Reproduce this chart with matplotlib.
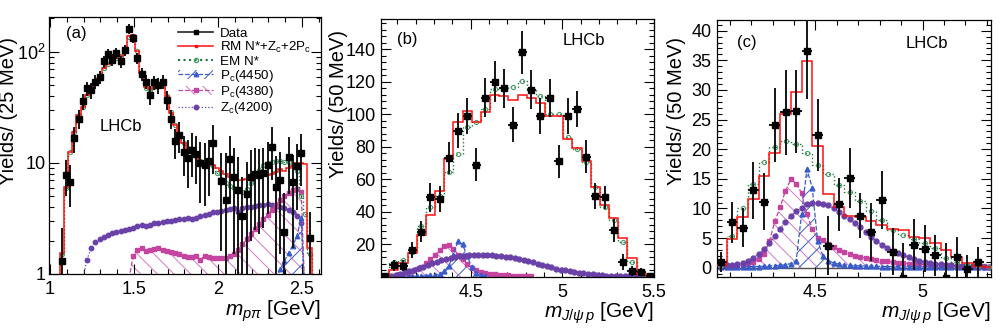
import numpy as np
import matplotlib
matplotlib.use("Agg")
import matplotlib.pyplot as plt
from matplotlib.patches import Patch
from matplotlib.lines import Line2D
from matplotlib.ticker import MultipleLocator, LogLocator, NullFormatter

plt.rcParams['font.family'] = ['Liberation Sans', 'DejaVu Sans']
plt.rcParams['mathtext.fontset'] = 'custom'
plt.rcParams['mathtext.rm'] = 'Liberation Sans'
plt.rcParams['mathtext.it'] = 'Liberation Sans:italic'
plt.rcParams['mathtext.bf'] = 'Liberation Sans:bold'
plt.rcParams['hatch.linewidth'] = 0.7

nan = np.nan

# ---------------- panel (a): m(p pi), 25 MeV bins ----------------
a_start, a_width = 1.0575, 0.025
a_data = [1.3, 7.8, 6.8, 16.7, 25, 36, 47, 45, 54, 59,
          82, 96, 85, 97, 82, 104, 161, 133, 88, 63,
          54, 41, 53, 50, 54, 37, 25, 15.6, 17.9, 12.6,
          11.0, 13.0, 12.0, 9.9, 9.6, 10.5, 15.0, nan, 6.9, 4.6,
          10.8, 7.5, 5.7, 3.3, 5.3, 7.5, 8.0, 7.8, 8.1, 9.5,
          14.0, 6.1, 7.0, 2.4, 11.2, 6.7, 9.3, 12.2, nan, 2.1]
a_err = [1.3, 2.8, 2.8, 4.5, 5.0, 6.0, 7.0, 7.0, 7.5, 8.0,
         10.0, 10.5, 10.0, 10.5, 10.0, 12.0, 16.0, 13.0, 10.0, 8.5,
         8.0, 8.0, 8.0, 8.0, 8.0, 7.0, 5.0, 4.7, 5.5, 5.0,
         5.0, 5.5, 5.5, 5.5, 5.5, 5.5, 7.0, nan, 5.3, 7.6,
         6.5, 6.0, 5.5, 4.2, 5.0, 5.5, 5.5, 5.5, 5.5, 6.0,
         7.0, 5.5, 5.5, 3.0, 6.0, 5.0, 5.5, 6.0, nan, 1.5]
a_rm = [1.55, 6.1, 12.6, 19, 27, 32, 41, 47, 53, 58,
        72, 77, 84, 88, 92, 104, 138, 142, 102, 65,
        48, 46, 49, 50, 50, 40, 28, 22, 18.5, 15,
        13.5, 12.3, 11.5, 10.5, 10, 10, 9.5, 9.0, 8.5, 8.0,
        7.5, 7.3, 7.0, 7.0, 7.2, 7.5, 7.5, 8.0, 8.0, 7.8,
        8.0, 8.3, 8.8, 8.5, 9.0, 9.3, 10.0, 10.0, 9.8, 1.7]
a_em = [1.5, 6.0, 12.5, 19, 27, 32, 41, 47, 53, 58,
        72, 77, 84, 88, 92, 102, 135, 140, 102, 65,
        47, 45, 48, 50, 50, 40, 29, 22, 18, 15,
        13.5, 12.5, 11.5, 10.5, 10.2, 9.8, 9.3, 8.2, 7.2, 6.6,
        6.2, 5.9, 5.6, 5.5, 5.8, 6.6, 7.6, 8.6, 9.5, 10.0,
        10.3, 10.5, 10.5, 10.3, 10.1, 9.8, 8.5, 5.0, 3.5, 1.5]
a_zc = [nan, nan, nan, nan, nan, 0.9, 1.35, 1.7, 1.95, 2.05,
        2.15, 2.25, 2.35, 2.4, 2.45, 2.5, 2.55, 2.6, 2.7, 2.75,
        2.7, 2.75, 2.85, 2.9, 2.95, 3.0, 3.0, 3.05, 3.1, 3.1,
        3.2, 3.15, 3.2, 3.3, 3.4, 3.5, 3.6, 3.65, 3.7, 3.8,
        3.85, 3.9, 3.6, 3.9, 4.0, 4.05, 4.1, 4.15, 4.2, 4.25,
        4.2, 4.1, 4.0, 3.9, 3.8, 3.6, 3.3, 2.9, 0.5, nan]
a_pc4380 = [nan, nan, nan, nan, nan, nan, nan, nan, nan, nan,
            nan, nan, nan, nan, nan, nan, 0.9, 1.45, 1.65, 1.7,
            1.62, 1.65, 1.68, 1.72, 1.65, 1.6, 1.58, 1.55, 1.5, 1.45,
            1.42, 1.42, 1.45, 1.35, 1.45, 1.42, 1.4, 1.4, 1.38, 1.4,
            1.45, 1.52, 1.65, 1.85, 2.05, 2.3, 2.55, 2.8, 3.1, 3.4,
            3.8, 4.2, 4.6, 5.0, 5.4, 5.7, 5.8, 5.5, 0.5, nan]
a_pc4450 = [nan] * 51 + [0.9, 1.1, 1.3, 1.55, 1.8, 2.2, 3.2, 0.5, nan]

# ---------------- panel (b): m(J/psi p), 50 MeV bins ----------------
b_start, b_width = 4.005, 0.05
b_data = [0.8, 7.3, 6.9, 16.5, 27.8, 49, 48, 73, 90, 99,
          69, 110, 120, 116, 93.5, 138, 115, 99, 110, 71,
          99, 103, 74, 50, 49, 28.8, 9.4, 3.9, 3.3, 0.8]
b_err = [0.0, 3.4, 3.3, 5.0, 6.5, 9.0, 8.0, 10.0, 11.0, 11.0,
         10.0, 12.0, 12.7, 12.0, 10.7, 13.0, 12.0, 11.0, 11.5, 10.0,
         11.0, 11.0, 10.0, 8.0, 7.0, 7.0, 5.0, 3.0, 2.5, 0.0]
b_rm = [0, 4.3, 8.4, 14.5, 25.7, 38, 53, 72.7, 95.5, 102,
        95, 101.6, 112, 111, 109, 112, 110, 107, 99, 98.8,
        85, 79, 71, 55, 44, 36, 23.7, 11.4, 2.0, 0]
b_em = [0, 9.5, 10.4, 15.5, 31.4, 43, 50, 64.5, 75.7, 92,
        95, 103, 115.5, 116, 117, 120.6, 115.5, 111.4, 100, 100,
        86, 78.4, 70.6, 55.3, 43, 35, 21.6, 9.4, 2.9, 0]
b_zc_start = 4.065
b_zc = [0.8, 1.4, 2.0, 2.8, 3.7, 4.6, 5.5, 6.4, 7.4, 8.4,
        9.3, 10.2, 11.0, 11.7, 12.3, 12.8, 13.1, 13.3, 13.5, 13.5,
        13.5, 13.6, 13.4, 13.1, 12.8, 12.4, 12.0, 11.5, 11.0, 10.4,
        9.7, 9.0, 8.2, 7.4, 6.6, 5.9, 5.2, 4.6, 4.0, 3.5,
        3.0, 2.6, 2.2, 1.9, 1.6, 1.3, 1.1, 0.9, 0.8, 0.7,
        0.6, 0.5, 0.4, 0.3, 0.3, 0.2, 0.2]
b_pc_start = 4.08
b_pc4380 = [0.5, 1.0, 1.6, 2.4, 3.4, 4.8, 6.4, 8.4, 10.8, 13.6,
            16.4, 19.0, 19.8, 17.5, 13.8, 11.0, 8.0, 5.6, 4.0, 3.0,
            2.4, 2.0, 1.7, 1.4, 1.2, 1.0, 0.9, 0.8, 0.7, 0.6, 0.5]
b_pc4450 = [0.2, 0.2, 0.3, 0.3, 0.4, 0.5, 0.6, 0.8, 1.0, 1.3,
            1.8, 3.5, 7.0, 13.5, 22.0, 20.0, 13.0, 6.0, 2.5, 1.0, 0.4]

# ---------------- panel (c): m(J/psi p), 50 MeV bins, second selection ----------------
c_start, c_width = 4.035, 0.05
c_data = [1.0, 7.65, 6.75, 13.1, 11.1, 24.1, 26.2, 26.4, 36.5, 22.4,
          3.7, 10.7, 15.1, 8.8, 6.1, 11.5, 2.7, -1.8, 3.9, 3.2,
          2.1, -1.8, 1.75, -0.3, 1.0]
c_err = [1.7, 3.4, 3.3, 4.8, 4.8, 6.3, 7.2, 7.0, 8.0, 6.0,
         5.0, 4.5, 5.1, 3.8, 4.9, 4.9, 4.0, 6.0, 4.3, 4.0,
         3.5, 6.0, 3.5, 2.5, 2.5]
c_rm = [0.5, 4.9, 8.5, 11.6, 15.4, 19.4, 25.9, 29.6, 34.9, 20.6,
        12.4, 10.3, 8.7, 8.5, 7.8, 7.2, 6.5, 6.4, 5.2, 5.0,
        4.2, 3.0, 1.8, 0.8, 0.3, 0.2]
c_em = [0.5, 5.4, 10.1, 14.1, 17.8, 20.4, 21.4, 20.8, 19.4, 17.4,
        15.8, 14.0, 12.7, 11.3, 9.6, 8.0, 6.4, 5.5, 4.8, 4.1,
        3.3, 1.6, 1.0, 0.6, 0.3, 0.2]
c_comp_start = 4.06
c_zc = [0.3, 0.4, 0.5, 0.6, 0.8, 1.2, 1.7, 2.3, 3.1, 4.1,
        5.3, 6.6, 7.7, 8.7, 9.5, 10.1, 10.7, 11.0, 11.0, 10.8,
        10.5, 10.0, 9.4, 8.8, 8.2, 7.5, 6.8, 6.0, 5.2, 4.5,
        3.9, 3.4, 2.9, 2.5, 2.1, 1.8, 1.5, 1.2, 1.0, 0.8,
        0.7, 0.6, 0.5, 0.4, 0.35, 0.3, 0.3, 0.25, 0.2, 0.2, 0.2]
c_pc4380 = [0.1, 0.1, 0.2, 0.3, 0.4, 0.6, 0.9, 1.5, 2.3, 4.5,
            7.8, 10.2, 13.0, 14.9, 14.2, 12.6, 9.0, 6.5, 5.0, 4.6,
            4.0, 3.5, 3.0, 2.6, 2.3, 2.0, 1.8, 1.6, 1.4, 1.3,
            1.15, 1.05, 0.95, 0.85, 0.8, 0.7, 0.65, 0.6, 0.55, 0.5,
            0.45, 0.45, 0.4, 0.4, 0.35, 0.35, 0.3, 0.3, 0.25, 0.25, 0.2]
c_pc4450 = [0.1, 0.1, 0.1, 0.1, 0.15, 0.15, 0.2, 0.2, 0.25, 0.3,
            0.35, 0.4, 0.5, 0.7, 1.2, 9.0, 16.6, 13.5, 4.5, 2.0,
            1.2, 0.8, 0.6, 0.5, 0.4, 0.35, 0.3, 0.3, 0.25, 0.25,
            0.2, 0.2, 0.2, 0.2, 0.15, 0.15, 0.15, 0.15, 0.1, 0.1,
            0.1, 0.1, 0.1, 0.1, 0.1, 0.1, 0.1, 0.1, 0.1, 0.1, 0.1]

RED = '#ff1010'
GREEN = '#1f7a3a'
GREEN_M = '#4c9c6c'
BLUE = '#3a5cc8'
MAG = '#c4449f'
MAG_H = '#d27ac4'
PURP = '#6a41a8'
HATCH_M = '\\\\'
HATCH_B = '//'


def edges_of(start, width, n):
    return start + width * np.arange(n + 1)


def style_axis(ax, ypad=4):
    ax.tick_params(which='both', direction='in', top=True, right=True,
                   labelsize=13, width=0.8)
    ax.tick_params(which='major', length=7)
    ax.tick_params(which='minor', length=3.5)
    ax.tick_params(axis='x', pad=5)
    ax.tick_params(axis='y', pad=ypad)
    for s in ax.spines.values():
        s.set_linewidth(0.9)


def draw_panel(ax, data, err, rm, em, start, width, comps, base, halfx,
               log=False, ms=4.0, cms=3.5):
    n = len(data)
    ed = edges_of(start, width, len(rm))
    cen = ed[:-1] + width / 2
    for x, y, col, hcol, hatch, mk, ls in comps:
        y = np.asarray(y, float)
        if hatch is not None:
            ax.fill_between(x, base, y, where=~np.isnan(y), facecolor='none',
                            edgecolor=hcol, hatch=hatch, linewidth=0, zorder=1)
        ax.plot(x, y, ls=ls, lw=0.9, color=col, marker=mk, ms=cms,
                mec=col, mfc=col, zorder=2)
    sb = 0.5 if log else 0
    ax.stairs(em, ed, baseline=sb, color=GREEN, lw=1.0, ls=':', zorder=3)
    ax.plot(cen, em, ls='none', marker='o', ms=3.0, mfc='none', mec=GREEN_M,
            mew=0.8, zorder=3)
    ax.stairs(rm, ed, baseline=sb, color=RED, lw=1.1, zorder=4)
    dx = edges_of(start, width, n)[:-1] + width / 2
    ax.errorbar(dx, data, yerr=err, xerr=halfx, fmt='s', color='black',
                ms=ms, elinewidth=1.4, ecolor='#151515', capsize=0, zorder=5)


fig = plt.figure(figsize=(10.08, 3.31), dpi=100)
W, H = 1008.0, 331.0
ax_a = fig.add_axes([49 / W, 1 - 274 / H, 272 / W, 257 / H])
ax_b = fig.add_axes([381 / W, 1 - 277 / H, 273 / W, 258 / H])
ax_c = fig.add_axes([717 / W, 1 - 277 / H, 274 / W, 257 / H])

# ---- (a)
ax_a.set_yscale('log')
a_cx = edges_of(a_start, a_width, len(a_rm))[:-1] + a_width / 2
draw_panel(ax_a, a_data, a_err, a_rm, a_em, a_start, a_width,
           [(a_cx, a_zc, PURP, None, None, 'o', ':'),
            (a_cx, a_pc4380, MAG, MAG_H, HATCH_M, 's', '--'),
            (a_cx, a_pc4450, BLUE, BLUE, HATCH_B, '^', '--')],
           1.0, 0.0125, log=True, ms=4.0, cms=3.2)
ax_a.set_xlim(0.994, 2.613)
ax_a.set_ylim(1, 206)
ax_a.set_xticks([1, 1.5, 2, 2.5])
ax_a.set_xticklabels(['1', '1.5', '2', '2.5'])
ax_a.xaxis.set_minor_locator(MultipleLocator(0.1))
ax_a.set_yticks([1, 10, 100])
ax_a.set_yticklabels(['1', '10', '$10^{2}$'])
ax_a.yaxis.set_minor_locator(LogLocator(base=10, subs=np.arange(2, 10)))
ax_a.yaxis.set_minor_formatter(NullFormatter())
style_axis(ax_a, ypad=2.5)

# ---- (b)
b_zx = b_zc_start + 0.025 * np.arange(len(b_zc))
b_px = b_pc_start + 0.025 * np.arange(len(b_pc4380))
b_bx = b_pc_start + 0.025 * np.arange(len(b_pc4450))
draw_panel(ax_b, b_data, b_err, b_rm, b_em, b_start, b_width,
           [(b_px, b_pc4380, MAG, MAG_H, HATCH_M, 's', '--'),
            (b_bx, b_pc4450, BLUE, BLUE, HATCH_B, '^', '--'),
            (b_zx, b_zc, PURP, None, None, 'o', ':')],
           0.0, 0.025)
ax_b.set_xlim(4.01, 5.50)
ax_b.set_ylim(0, 158.5)
ax_b.set_xticks([4.5, 5.0, 5.5])
ax_b.set_xticklabels(['4.5', '5', '5.5'])
ax_b.xaxis.set_minor_locator(MultipleLocator(0.1))
ax_b.set_yticks([20, 40, 60, 80, 100, 120, 140])
ax_b.yaxis.set_minor_locator(MultipleLocator(4))
style_axis(ax_b)

# ---- (c)
c_x = c_comp_start + 0.025 * np.arange(len(c_zc))
ax_c.axhline(0, color='#505050', lw=1.0, zorder=1.5)
draw_panel(ax_c, c_data, c_err, c_rm, c_em, c_start, c_width,
           [(c_x, c_pc4380, MAG, MAG_H, HATCH_M, 's', '--'),
            (c_x, c_pc4450, BLUE, BLUE, HATCH_B, '^', '--'),
            (c_x, c_zc, PURP, None, None, 'o', ':')],
           0.0, 0.025)
ax_c.set_xlim(4.040, 5.320)
ax_c.set_ylim(-1.57, 41.8)
ax_c.set_xticks([4.5, 5.0])
ax_c.set_xticklabels(['4.5', '5'])
ax_c.xaxis.set_minor_locator(MultipleLocator(0.1))
ax_c.set_yticks([0, 5, 10, 15, 20, 25, 30, 35, 40])
ax_c.yaxis.set_minor_locator(MultipleLocator(1))
style_axis(ax_c)

# ---- legend in (a)
handles = [
    Line2D([], [], color='#222222', marker='s', ms=3.2, lw=1.2, mfc='black', mec='black'),
    Line2D([], [], color=RED, marker='s', ms=1.6, lw=1.1),
    Line2D([], [], color=GREEN, ls=':', marker='o', mfc='none', mec=GREEN_M, ms=3.0),
    (Patch(facecolor='none', edgecolor=BLUE, hatch=HATCH_B, lw=0),
     Line2D([], [], color=BLUE, ls='--', marker='^', ms=3.2, lw=0.9)),
    (Patch(facecolor='none', edgecolor=MAG_H, hatch=HATCH_M, lw=0),
     Line2D([], [], color=MAG, ls='--', marker='s', ms=3.2, lw=0.9)),
    Line2D([], [], color=PURP, ls=':', marker='o', ms=3.2, lw=0.9),
]
labels = ['Data', 'RM N*+Z$_{\\mathrm{c}}$+2P$_{\\mathrm{c}}$', 'EM N*',
          'P$_{\\mathrm{c}}$(4450)', 'P$_{\\mathrm{c}}$(4380)', 'Z$_{\\mathrm{c}}$(4200)']
ax_a.legend(handles, labels, loc='upper left', bbox_to_anchor=(0.47, 0.965),
            frameon=False, fontsize=9.6, handlelength=2.6, handletextpad=0.55,
            labelspacing=0.02, borderaxespad=0.0, borderpad=0.1)

# ---- panel texts
ax_a.text(0.099, 0.934, '(a)', transform=ax_a.transAxes, fontsize=12, ha='center', va='center')
ax_a.text(0.265, 0.572, 'LHCb', transform=ax_a.transAxes, fontsize=12, ha='center', va='center')
ax_b.text(0.095, 0.922, '(b)', transform=ax_b.transAxes, fontsize=12, ha='center', va='center')
ax_b.text(0.744, 0.915, 'LHCb', transform=ax_b.transAxes, fontsize=12, ha='center', va='center')
ax_c.text(0.109, 0.914, '(c)', transform=ax_c.transAxes, fontsize=12, ha='center', va='center')
ax_c.text(0.766, 0.907, 'LHCb', transform=ax_c.transAxes, fontsize=12, ha='center', va='center')

# ---- axis titles (ROOT style: right / top aligned)
fig.text(-1 / W, 1 - 185 / H, 'Yields/ (25 MeV)', rotation=90, ha='left', va='bottom', fontsize=14.5)
fig.text(329 / W, 1 - 178 / H, 'Yields/ (50 MeV)', rotation=90, ha='left', va='bottom', fontsize=14.5)
fig.text(667 / W, 1 - 185 / H, 'Yields/ (50 MeV)', rotation=90, ha='left', va='bottom', fontsize=14.5)
fig.text(320 / W, 1 - 316 / H, '$m_{p\\pi}$ [GeV]', ha='right', va='baseline', fontsize=15)
fig.text(654 / W, 1 - 318 / H, '$m_{J/\\psi\\, p}$ [GeV]', ha='right', va='baseline', fontsize=15)
fig.text(991 / W, 1 - 318 / H, '$m_{J/\\psi\\, p}$ [GeV]', ha='right', va='baseline', fontsize=15)

fig.savefig('out.png', dpi=100)
